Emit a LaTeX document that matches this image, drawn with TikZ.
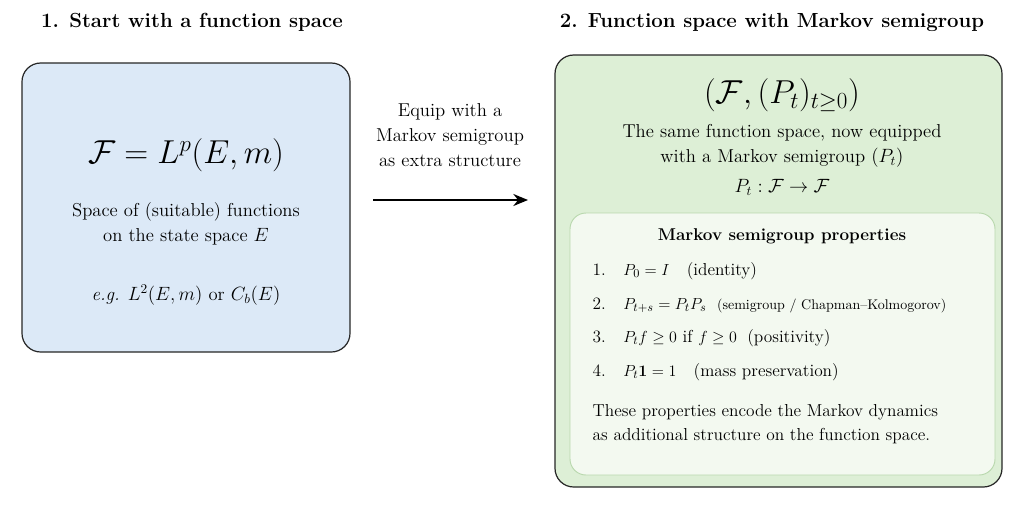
\documentclass[tikz,border=0pt]{standalone}
\usepackage{amsmath,amssymb}
\usetikzlibrary{arrows.meta}
\begin{document}
\begin{tikzpicture}[x=0.75pt,y=-0.75pt,
  title/.style={font=\fontsize{15.3}{18}\selectfont\bfseries},
  body/.style={font=\fontsize{14}{18.5}\selectfont, align=center},
  big/.style={font=\fontsize{25}{28}\selectfont},
  item/.style={font=\fontsize{13}{18.5}\selectfont, anchor=west}]
\useasboundingbox (0,0) rectangle (1024,512);
\definecolor{bluef}{HTML}{DCE9F7}
\definecolor{greenf}{HTML}{DDEFD6}
\definecolor{innerf}{HTML}{F3F9F0}
\definecolor{innerb}{HTML}{B9D8AE}
\node[title] (t1) at (192,22) {1. Start with a function space};
\node[title] (t2) at (772,22) {2. Function space with Markov semigroup};
\draw[rounded corners=14, fill=bluef, draw=black!85, line width=0.9pt] (22,63) rectangle (350,352);
\node[big] (f1) at (186,155) {$\mathcal{F} = L^p(E,m)$};
\node[body] (d1) at (186,224) {Space of (suitable) functions\\on the state space $E$};
\node[body] (e1) at (186,295) {\emph{e.g.} $L^2(E,m)$ or $C_b(E)$};
\node[body] (eq) at (450,135) {Equip with a\\Markov semigroup\\as extra structure};
\coordinate (a1) at (373,200); \coordinate (a2) at (528,200);
\draw[-{Stealth[length=11pt,width=9pt]}, line width=1.5pt] (a1) -- (a2);
\draw[rounded corners=14, fill=greenf, draw=black!85, line width=0.9pt] (555,55) rectangle (1002,487);
\node[big] (f2) at (782,95) {$(\mathcal{F},(P_t)_{t\geq 0})$};
\node[body] (d2) at (782,146) {The same function space, now equipped\\with a Markov semigroup $(P_t)$};
\node[body] (m2) at (782,187) {$P_t : \mathcal{F}\to\mathcal{F}$};
\draw[rounded corners=12, fill=innerf, draw=innerb, line width=0.7pt] (570,213) rectangle (995,475);
\node[font=\fontsize{12.8}{15}\selectfont\bfseries] (pt) at (782,236) {Markov semigroup properties};
\node[item] (i1) at (588,271) {1.\quad $P_0 = I$\quad (identity)};
\node[item] (i2) at (588,305) {2.\quad $P_{t+s} = P_tP_s$\; {\fontsize{10.5}{12}\selectfont(semigroup / Chapman--Kolmogorov)}};
\node[item] (i3) at (588,338) {3.\quad $P_tf \geq 0$ if $f\geq 0$\; (positivity)};
\node[item] (i4) at (588,372) {4.\quad $P_t\mathbf{1} = 1$\quad (mass preservation)};
\node[item, align=left] (c) at (588,424) {These properties encode the Markov dynamics\\as additional structure on the function space.};
\end{tikzpicture}
\end{document}
